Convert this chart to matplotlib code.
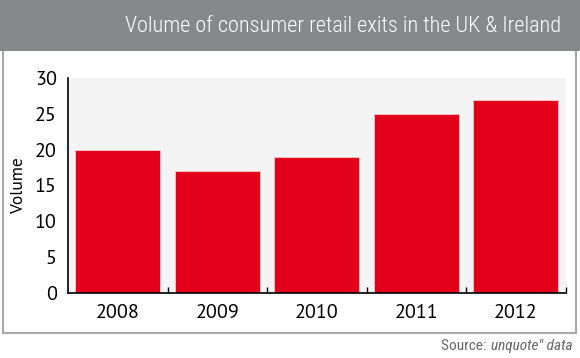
import matplotlib.pyplot as plt
from matplotlib.patches import Rectangle

years = ['2008', '2009', '2010', '2011', '2012']
volume = [20, 17, 19, 25, 27]
yticks = [0, 5, 10, 15, 20, 25, 30]

title = 'Volume of consumer retail exits in the UK & Ireland'
narrow = ['Roboto Condensed', 'DejaVu Sans']
body = ['PT Sans', 'DejaVu Sans']

fig = plt.figure(figsize=(5.8, 3.58), dpi=100)
W, H = 580, 358

# outer frame and grey header band
fig.patches.append(Rectangle((2.5 / W, 1 - 333 / H), 573 / W, 331 / H,
                             transform=fig.transFigure, facecolor='white',
                             edgecolor='#a8a8a8', linewidth=1.5, zorder=-2))
fig.patches.append(Rectangle((0, 1 - 51 / H), 1, 51 / H,
                             transform=fig.transFigure, facecolor='#87888a',
                             edgecolor='none', zorder=-1))
fig.text(561 / W, 1 - 27 / H, title, color='white', family=narrow,
         fontsize=16, weight='light', ha='right', va='center')

ax = fig.add_axes([68 / W, 1 - 293 / H, (565.7 - 68) / W, (293 - 78) / H])
ax.set_facecolor('#f4f4f4')
x = range(len(years))
ax.bar(x, volume, width=0.855, color='#e2001a', edgecolor='#f6c9cc',
       linewidth=0.6, zorder=2)
ax.set_xlim(-0.5, len(years) - 0.5)
ax.set_ylim(0, 30)
ax.set_yticks(yticks)
ax.set_xticks(list(x))
ax.set_xticklabels(years)
ax.set_xticks([i + 0.5 for i in x], minor=True)
ax.tick_params(axis='x', which='major', length=0, pad=8)
ax.tick_params(axis='x', which='minor', direction='in', length=4, width=1)
ax.tick_params(axis='y', length=0, pad=8)
for lab in ax.get_xticklabels() + ax.get_yticklabels():
    lab.set_family(body)
    lab.set_fontsize(14.5)
for s in ['top', 'right']:
    ax.spines[s].set_visible(False)
for s in ['left', 'bottom']:
    ax.spines[s].set_linewidth(1.2)
ax.set_ylabel('Volume', family=body, fontsize=12.5, labelpad=6)

# source line: regular + italic pieces
src = fig.text(573 / W, 1 - 346 / H, 'unquote" data', color='#666666',
               family=narrow, fontsize=11, style='italic',
               ha='right', va='center')
fig.canvas.draw()
bb = src.get_window_extent()
fig.text(bb.x0 / W - 0.002, 1 - 346 / H, 'Source: ', color='#666666',
         family=narrow, fontsize=11, ha='right', va='center')

fig.savefig('out.png', dpi=100)
